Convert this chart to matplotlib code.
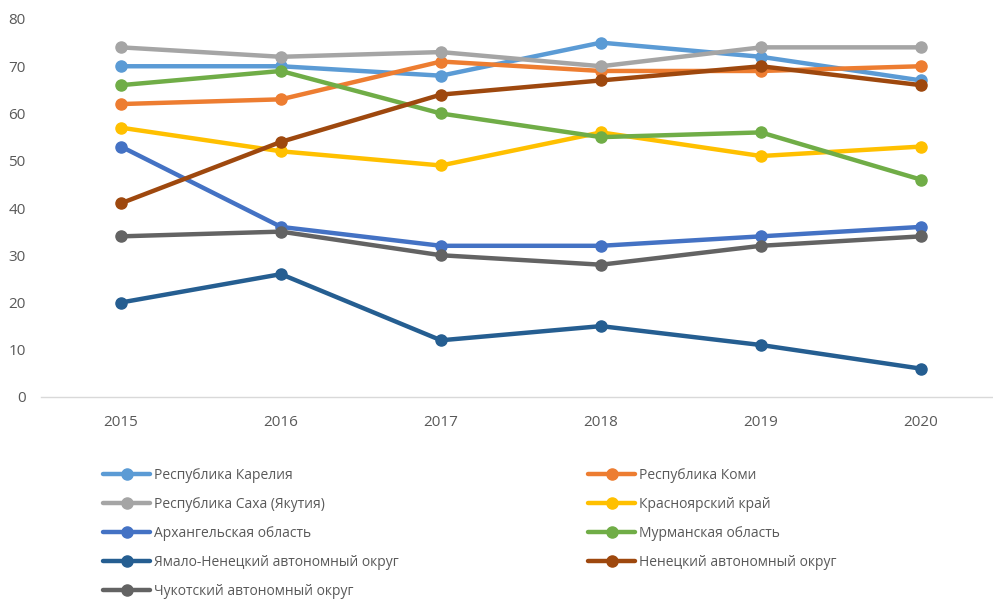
import matplotlib.pyplot as plt

years = ["2015", "2016", "2017", "2018", "2019", "2020"]

karelia = [70, 70, 68, 75, 72, 67]
komi = [62, 63, 71, 69, 69, 70]
sakha = [74, 72, 73, 70, 74, 74]
krasnoyarsk = [57, 52, 49, 56, 51, 53]
arkhangelsk = [53, 36, 32, 32, 34, 36]
murmansk = [66, 69, 60, 55, 56, 46]
yamal = [20, 26, 12, 15, 11, 6]
nenets = [41, 54, 64, 67, 70, 66]
chukotka = [34, 35, 30, 28, 32, 34]

series = [
    ("Республика Карелия", karelia, "#5B9BD5"),
    ("Республика Коми", komi, "#ED7D31"),
    ("Республика Саха (Якутия)", sakha, "#A5A5A5"),
    ("Красноярский край", krasnoyarsk, "#FFC000"),
    ("Архангельская область", arkhangelsk, "#4472C4"),
    ("Мурманская область", murmansk, "#70AD47"),
    ("Ямало-Ненецкий автономный округ", yamal, "#255E91"),
    ("Ненецкий автономный округ", nenets, "#9E480E"),
    ("Чукотский автономный округ", chukotka, "#636363"),
]

plt.rcParams['font.family'] = ['Open Sans', 'DejaVu Sans']

W, H = 993, 599
fig = plt.figure(figsize=(W / 100, H / 100), dpi=100)
# plot area in pixels: left 41, top 19, bottom 397
ax = fig.add_axes([41 / W, 1 - 397 / H, (W - 41) / W, (397 - 19) / H])

x = list(range(len(years)))
lines = {}
for name, vals, col in series:
    ln, = ax.plot(x, vals, color=col, lw=3.2, marker="o", ms=8,
                  solid_capstyle="round", label=name)
    lines[name] = ln

ax.set_xlim(-0.5, (W - 121) / 160)
ax.set_ylim(0, 80)
ax.set_yticks(range(0, 81, 10))
ax.set_xticks(x)
ax.set_xticklabels(years)
ax.tick_params(length=0, labelsize=11, colors="#595959")
ax.tick_params(axis="y", pad=11)
ax.tick_params(axis="x", pad=13)
for s in ["top", "right", "left"]:
    ax.spines[s].set_visible(False)
ax.spines["bottom"].set_color("#D9D9D9")
ax.spines["bottom"].set_linewidth(1)

names = [s[0] for s in series]
left_names = names[0::2]
right_names = names[1::2]

common = dict(frameon=False, fontsize=10, handlelength=3.4, handletextpad=0.3,
              labelspacing=1.0, borderpad=0, borderaxespad=0, labelcolor="#595959")
leg1 = fig.legend([lines[n] for n in left_names], left_names,
                  loc="upper left", bbox_to_anchor=(103 / W, 1 - 468 / H), **common)
leg2 = fig.legend([lines[n] for n in right_names], right_names,
                  loc="upper left", bbox_to_anchor=(588 / W, 1 - 468 / H), **common)

fig.savefig("out.png", dpi=100)
